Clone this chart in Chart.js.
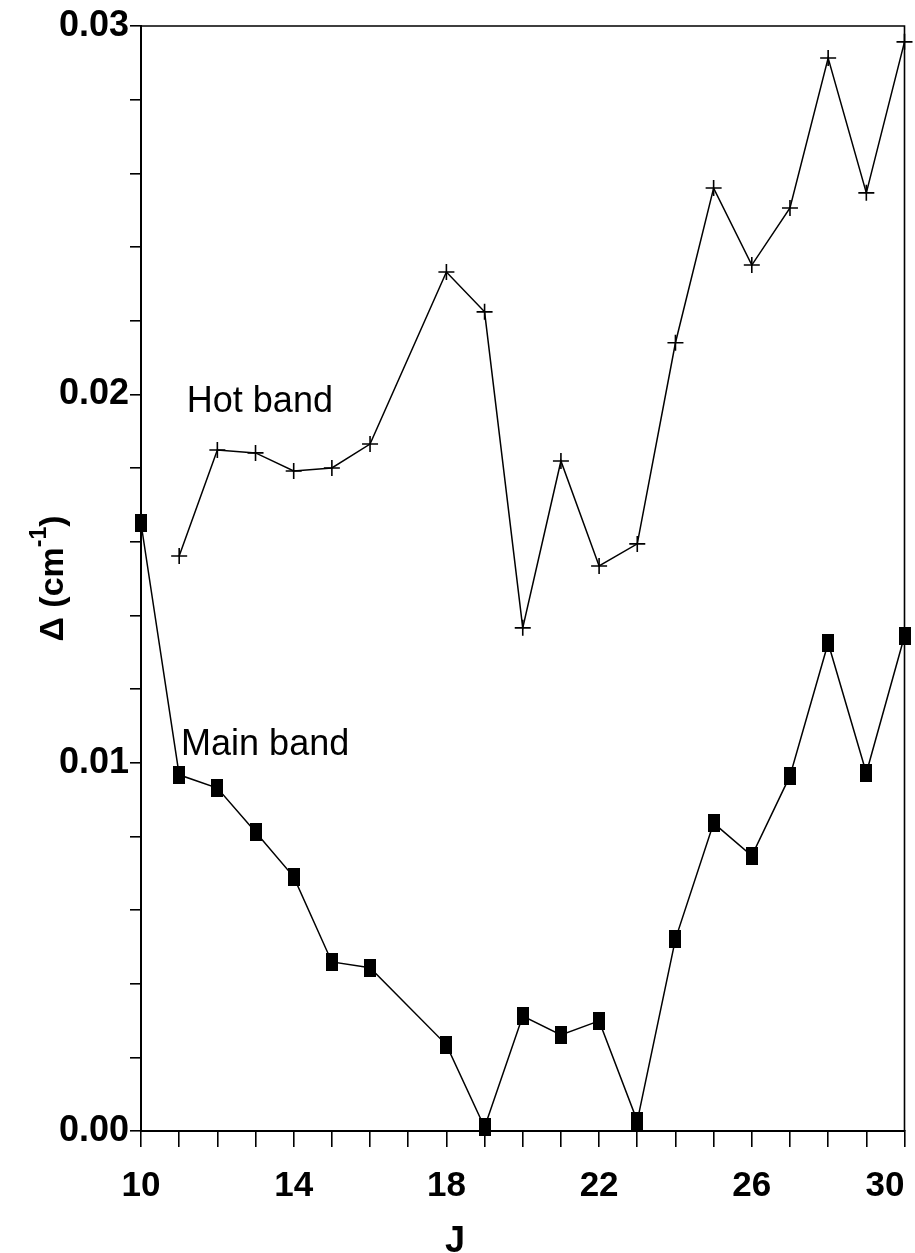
<!DOCTYPE html>
<html>
<head>
<meta charset="utf-8">
<script src="https://cdn.jsdelivr.net/npm/chart.js@4.4.1/dist/chart.umd.min.js"></script>
<style>
  html, body { margin: 0; padding: 0; background: #fff; }
  #c { display: block; }
</style>
</head>
<body>
<canvas id="c" width="915" height="1253"></canvas>
<script>
// Splitting Δ (cm^-1) versus J for the main band and the hot band
const mainJ = [10, 11, 12, 13, 14, 15, 16, 18, 19, 20, 21, 22, 23, 24, 25, 26, 27, 28, 29, 30];
const mainDelta = [0.0165, 0.00967, 0.00931, 0.00812, 0.0069, 0.00459, 0.00443, 0.00234, 0.0001, 0.00312,
                   0.00261, 0.00299, 0.00027, 0.00521, 0.00836, 0.00747, 0.00964, 0.01325, 0.00972, 0.01344];
const hotJ = [11, 12, 13, 14, 15, 16, 18, 19, 20, 21, 22, 23, 24, 25, 26, 27, 28, 29, 30];
const hotDelta = [0.01561, 0.01849, 0.01841, 0.01792, 0.018, 0.01865, 0.02332, 0.02224, 0.01366, 0.01819,
                  0.01534, 0.01594, 0.0214, 0.0256, 0.02351, 0.02506, 0.02913, 0.02547, 0.02957];
const xTickLabels = [10, 14, 18, 22, 26, 30];
const yTickLabels = [0.00, 0.01, 0.02, 0.03];
const seriesNames = ['Main band', 'Hot band'];

const FONT = '"Liberation Sans", Arial, Helvetica, sans-serif';

// filled tall square used as the main-band marker
const squareMarker = document.createElement('canvas');
squareMarker.width = 12;
squareMarker.height = 18;
{
  const g = squareMarker.getContext('2d');
  g.fillStyle = '#000';
  g.fillRect(0, 0, 12, 18);
}

const toPoints = (xs, ys) => xs.map((x, i) => ({ x, y: ys[i] }));

// frame on the top and right sides, axis titles and band labels
const decorations = {
  id: 'decorations',
  afterDatasetsDraw(chart) {
    const { ctx, chartArea: a, scales } = chart;
    ctx.save();
    ctx.strokeStyle = '#000';
    ctx.lineWidth = 1.6;
    ctx.beginPath();
    ctx.moveTo(a.left, a.top);
    ctx.lineTo(a.right, a.top);
    ctx.lineTo(a.right, a.bottom);
    ctx.stroke();

    ctx.fillStyle = '#000';
    // band labels, anchored in data space
    ctx.font = '36px ' + FONT;
    ctx.textAlign = 'left';
    ctx.textBaseline = 'alphabetic';
    ctx.fillText(seriesNames[1], scales.x.getPixelForValue(11.2), scales.y.getPixelForValue(0.01952));
    ctx.fillText(seriesNames[0], scales.x.getPixelForValue(11.05), scales.y.getPixelForValue(0.01021));

    // x-axis title
    ctx.font = 'bold 36px ' + FONT;
    ctx.textAlign = 'center';
    ctx.textBaseline = 'alphabetic';
    ctx.fillText('J', 455, 1252);

    // y-axis title with superscript
    ctx.translate(54, (a.top + a.bottom) / 2);
    ctx.rotate(-Math.PI / 2);
    const mainFont = 'bold 34px ' + FONT;
    const supFont = 'bold 23px ' + FONT;
    ctx.font = mainFont;
    const w1 = ctx.measureText('\u0394 (cm').width;
    const w3 = ctx.measureText(')').width;
    ctx.font = supFont;
    const w2 = ctx.measureText('-1').width;
    let x = -(w1 + w2 + w3) / 2;
    ctx.textAlign = 'left';
    ctx.textBaseline = 'middle';
    ctx.font = mainFont;
    ctx.fillText('\u0394 (cm', x, 0);
    x += w1;
    ctx.font = supFont;
    ctx.fillText('-1', x, -14);
    x += w2;
    ctx.font = mainFont;
    ctx.fillText(')', x, 0);
    ctx.restore();
  }
};

new Chart(document.getElementById('c'), {
  type: 'line',
  data: {
    datasets: [
      {
        label: seriesNames[0],
        data: toPoints(mainJ, mainDelta),
        borderColor: '#000',
        borderWidth: 1.5,
        pointStyle: squareMarker,
        pointRadius: 9,
        backgroundColor: '#000',
        fill: false,
        tension: 0,
        clip: false
      },
      {
        label: seriesNames[1],
        data: toPoints(hotJ, hotDelta),
        borderColor: '#000',
        borderWidth: 1.5,
        pointStyle: 'cross',
        pointRadius: 8,
        pointBorderWidth: 1.6,
        pointBorderColor: '#000',
        fill: false,
        tension: 0,
        clip: false
      }
    ]
  },
  options: {
    responsive: false,
    devicePixelRatio: 1,
    animation: false,
    events: [],
    layout: { padding: { top: 26, right: 9, left: 0, bottom: 0 } },
    plugins: {
      legend: { display: false },
      tooltip: { enabled: false }
    },
    scales: {
      x: {
        type: 'linear',
        min: 10,
        max: 30,
        afterFit(s) { s.height = 122; s.paddingLeft = 0; s.paddingRight = 0; },
        border: { display: true, color: '#000', width: 2 },
        grid: { drawOnChartArea: false, drawTicks: true, tickLength: 16, color: '#000', lineWidth: 1.6 },
        ticks: {
          stepSize: 1,
          autoSkip: false,
          maxRotation: 0,
          minRotation: 0,
          padding: 18,
          color: '#000',
          font: { family: FONT, size: 35, weight: 'bold' },
          callback(v) {
            if (!xTickLabels.includes(v)) return '';
            // keep the last label inside the canvas
            return v === 30 ? '30\u2007\u2007' : String(v);
          }
        }
      },
      y: {
        min: 0,
        max: 0.03,
        afterFit(s) { s.width = 141; s.paddingTop = 0; s.paddingBottom = 0; },
        border: { display: true, color: '#000', width: 2 },
        grid: { drawOnChartArea: false, drawTicks: true, tickLength: 11, color: '#000', lineWidth: 1.6 },
        ticks: {
          stepSize: 0.002,
          autoSkip: false,
          padding: 1,
          color: '#000',
          font: { family: FONT, size: 36, weight: 'bold' },
          callback(v) {
            const hit = yTickLabels.find(t => Math.abs(t - v) < 1e-9);
            return hit === undefined ? '' : hit.toFixed(2);
          }
        }
      }
    }
  },
  plugins: [decorations]
});
</script>
</body>
</html>
